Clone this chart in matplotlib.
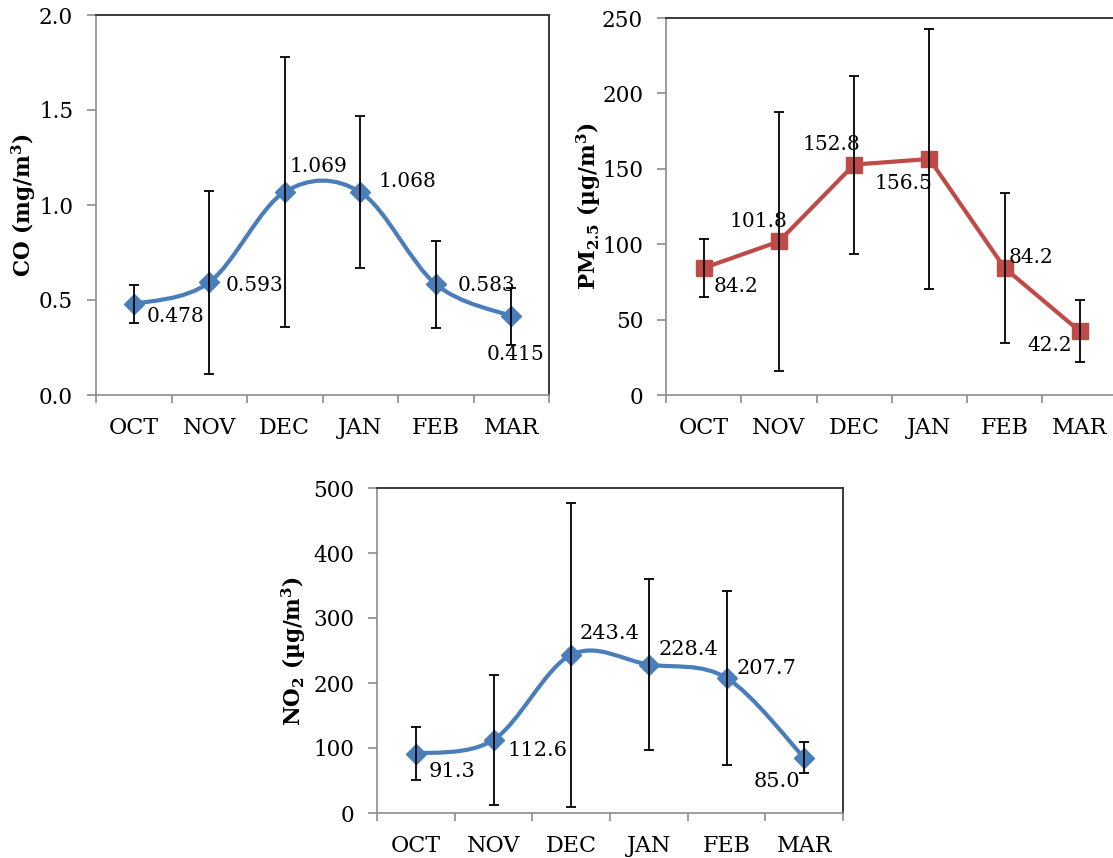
import matplotlib
matplotlib.use('Agg')
import numpy as np
import matplotlib.pyplot as plt
from matplotlib.path import Path
from matplotlib.patches import PathPatch

plt.rcParams['font.family'] = ['DejaVu Serif']
plt.rcParams['mathtext.fontset'] = 'dejavuserif'

months = ['OCT', 'NOV', 'DEC', 'JAN', 'FEB', 'MAR']

co_mean = [0.478, 0.593, 1.069, 1.068, 0.583, 0.415]
co_err = [0.10, 0.48, 0.71, 0.40, 0.23, 0.15]

pm_mean = [84.2, 101.8, 152.8, 156.5, 84.2, 42.2]
pm_err = [19.5, 86, 59, 86, 50, 20.5]

no2_mean = [91.3, 112.6, 243.4, 228.4, 207.7, 85.0]
no2_err = [41, 100, 234, 132, 134, 24]

# label offsets in pixels (dx, dy up) from each point
co_lbl_off = [(42, -12), (45, -3), (34, 25), (47, 11), (51, -1), (4, -38)]
pm_lbl_off = [(32, -18), (-20, 20), (-23, 20), (-26, -25), (26, 11), (-30, -14)]
no2_lbl_off = [(36, -18), (44, -11), (38, 21), (40, 15), (40, 9), (-27, -24)]

BLUE = '#4A7EBB'
RED = '#BE4B48'


def smooth_path(x, y):
    # excel-like smoothed line as cubic bezier segments
    n = len(x)
    verts = [(x[0], y[0])]
    codes = [Path.MOVETO]
    for i in range(n - 1):
        a = max(i - 1, 0)
        b = min(i + 2, n - 1)
        c1 = (x[i] + (x[i + 1] - x[a]) / 6.0, y[i] + (y[i + 1] - y[a]) / 6.0)
        c2 = (x[i + 1] - (x[b] - x[i]) / 6.0, y[i + 1] - (y[b] - y[i]) / 6.0)
        verts += [c1, c2, (x[i + 1], y[i + 1])]
        codes += [Path.CURVE4] * 3
    return Path(verts, codes)


def panel(ax, mean, err, color, marker, ms, smooth, ylim, yticks, yfmt,
          lfmt, offs, ylabel, lab_x, lab_fs=14.5):
    x = np.arange(len(months))
    if smooth:
        ax.add_patch(PathPatch(smooth_path(x, mean), facecolor='none',
                               edgecolor=color, lw=3.0, zorder=2,
                               capstyle='round'))
        ax.plot(x, mean, linestyle='none', marker=marker, ms=ms, color=color,
                zorder=3)
    else:
        ax.plot(x, mean, '-', marker=marker, ms=ms, color=color, lw=3.0,
                zorder=3)
    ax.errorbar(x, mean, yerr=err, fmt='none', ecolor='black',
                elinewidth=1.3, capsize=3.8, capthick=1.3, zorder=4)
    for xi, v, (dx, dy) in zip(x, mean, offs):
        ax.annotate(lfmt % v, (xi, v), xytext=(dx, dy),
                    textcoords='offset pixels', ha='center', va='center',
                    fontsize=lab_fs, zorder=5)
    ax.set_xlim(-0.5, len(months) - 0.5)
    ax.set_ylim(*ylim)
    ax.set_yticks(yticks)
    ax.set_yticklabels([yfmt % t for t in yticks], fontsize=15.5)
    ax.set_xticks(x)
    ax.set_xticklabels(months, fontsize=16)
    ax.set_xticks(np.arange(len(months) + 1) - 0.5, minor=True)
    ax.tick_params(axis='x', which='major', length=0, pad=16)
    ax.tick_params(axis='x', which='minor', length=6, width=1.2,
                   color='#8c8c8c', direction='out')
    ax.tick_params(axis='y', length=6.5, width=1.2, color='#8c8c8c',
                   pad=10, direction='out')
    for s in ['left', 'bottom']:
        ax.spines[s].set_color('#8c8c8c')
        ax.spines[s].set_linewidth(1.2)
    for s in ['top', 'right']:
        ax.spines[s].set_color('#3a3a3a')
        ax.spines[s].set_linewidth(1.4)
    ax.text(lab_x, 0.5, ylabel, transform=ax.transAxes, rotation=90,
            ha='center', va='center', fontsize=15.5, fontweight='bold')


fig = plt.figure(figsize=(11.13, 8.58), dpi=100)

ax1 = fig.add_axes([96 / 1113, 1 - 395 / 858, 453 / 1113, 380 / 858])
panel(ax1, co_mean, co_err, BLUE, 'D', 10.5, True, (0, 2.0),
      [0, 0.5, 1.0, 1.5, 2.0], '%.1f', '%.3f', co_lbl_off,
      r'CO (mg/m$^\mathbf{3}$)', -0.159)

ax2 = fig.add_axes([666 / 1113, 1 - 395 / 858, 451.5 / 1113, 377 / 858])
panel(ax2, pm_mean, pm_err, RED, 's', 12, False, (0, 250),
      [0, 50, 100, 150, 200, 250], '%d', '%.1f', pm_lbl_off,
      r'PM$_\mathbf{2.5}$ (µg/m$^\mathbf{3}$)', -0.172)

ax3 = fig.add_axes([377 / 1113, 1 - 813 / 858, 466 / 1113, 325 / 858])
panel(ax3, no2_mean, no2_err, BLUE, 'D', 10.5, True, (0, 500),
      [0, 100, 200, 300, 400, 500], '%d', '%.1f', no2_lbl_off,
      r'NO$_\mathbf{2}$ (µg/m$^\mathbf{3}$)', -0.178, lab_fs=15)

fig.savefig('out.png', dpi=100)
plt.close()
